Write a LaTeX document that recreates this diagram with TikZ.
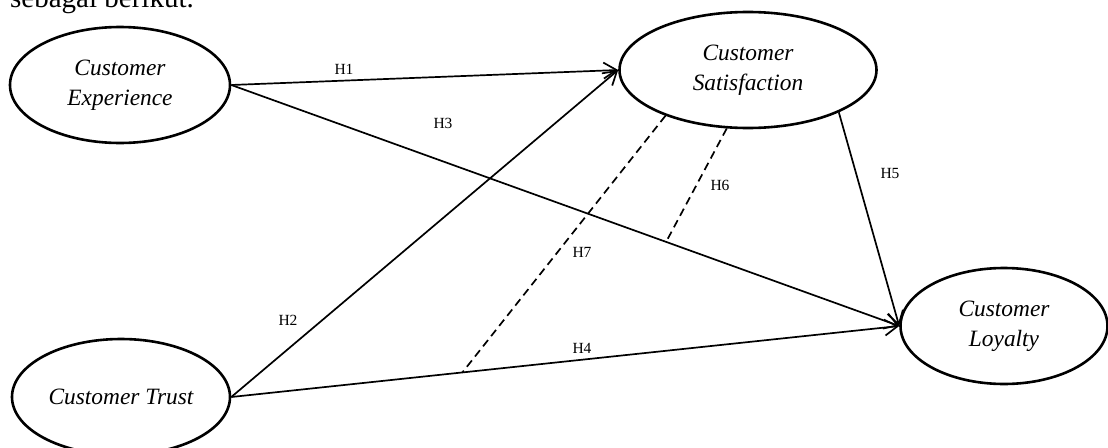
\documentclass[tikz,border=0pt]{standalone}
\usepackage{fontspec}
\setmainfont{Liberation Serif}
\usetikzlibrary{shapes.geometric,arrows.meta}
\begin{document}
\begin{tikzpicture}[x=1pt,y=-1pt,
  construct/.style={draw, ellipse, line width=2.6pt, inner sep=0pt, minimum height=116pt,
    align=center, font=\fontsize{23.4}{30}\selectfont\itshape},
  hyp/.style={line width=1.7pt, -{Straight Barb[length=13pt,width=16pt,line width=1.7pt]}},
  moddash/.style={line width=1.7pt, dash pattern=on 8pt off 5pt},
  lbl/.style={font=\fontsize{15.5}{18}\selectfont, inner sep=0pt}]
\useasboundingbox (0,0) rectangle (1108,447);
\node[anchor=base west, inner sep=0pt, font=\fontsize{29}{34}\selectfont] (intro) at (10,7) {sebagai berikut.};
\node[construct, minimum width=220pt] (ce) at (120,85) {Customer\\Experience};
\node[construct, minimum width=257pt] (cs) at (748,70) {Customer\\Satisfaction};
\node[construct, minimum width=218pt] (ct) at (121,397) {Customer Trust};
\node[construct, minimum width=207pt] (cl) at (1004,326) {Customer\\Loyalty};
\draw[hyp] (ce.east) -- (cs.west);
\draw[hyp] (ce.east) -- coordinate[pos=0.651] (m3) (cl.west);
\draw[hyp] (ct.east) -- (cs.west);
\draw[hyp] (ct.east) -- coordinate[pos=0.346] (m4) (cl.west);
\draw[hyp] (cs.335.5) -- (cl.west);
\draw[moddash] (cs.250) -- (m3);
\draw[moddash] (cs.209.6) -- (m4);
\node[lbl] (h1) at (344,69) {H1};
\node[lbl] (h2) at (288,320) {H2};
\node[lbl] (h3) at (443,123) {H3};
\node[lbl] (h4) at (582,348) {H4};
\node[lbl] (h5) at (890,173) {H5};
\node[lbl] (h6) at (720,185) {H6};
\node[lbl] (h7) at (582,252) {H7};
\end{tikzpicture}
\end{document}
